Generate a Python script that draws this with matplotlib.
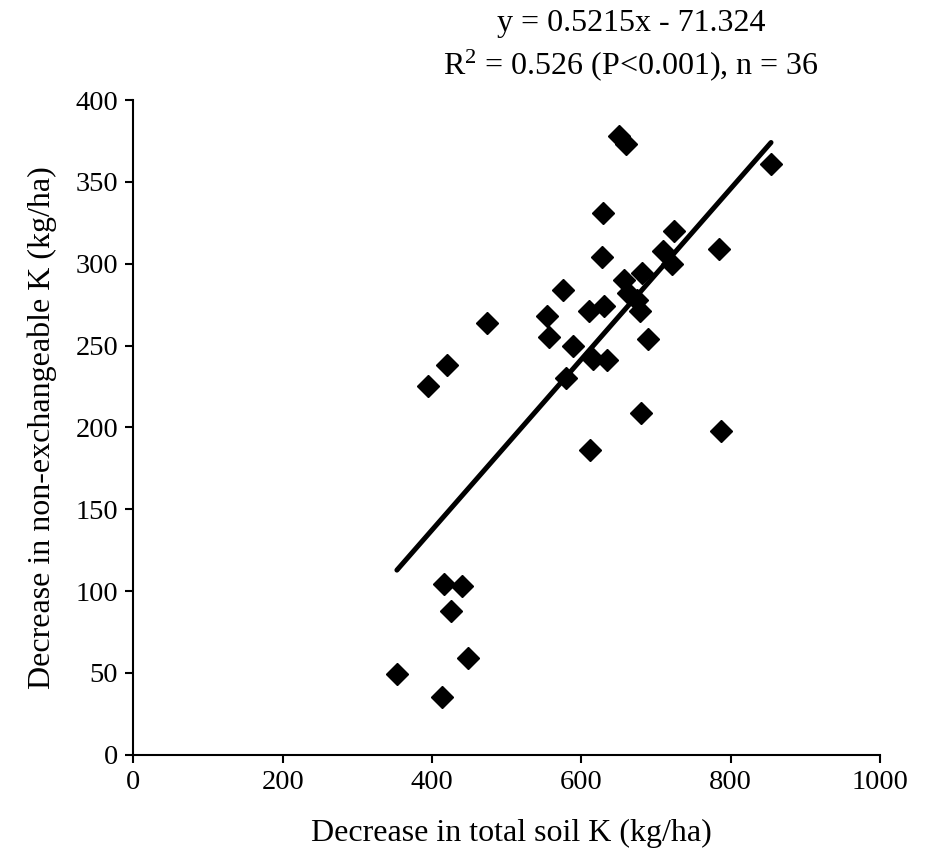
import numpy as np
import matplotlib
matplotlib.use("Agg")
import matplotlib.pyplot as plt

plt.rcParams['font.family'] = ['Liberation Serif', 'DejaVu Serif']
plt.rcParams['mathtext.fontset'] = 'custom'
plt.rcParams['mathtext.rm'] = 'Liberation Serif'
plt.rcParams['mathtext.it'] = 'Liberation Serif:italic'

# decrease in total soil K vs decrease in non-exchangeable K (kg/ha)
total_k = [473, 420, 394, 416, 440, 426, 448, 353, 413,
           651, 660, 854, 629, 724, 784, 710, 627, 721, 681,
           657, 576, 663, 674, 678, 631, 610, 554, 557, 589,
           689, 616, 634, 580, 680, 787, 611]
nonexch_k = [264, 238, 225, 104, 103, 88, 59, 49, 35,
             378, 373, 361, 331, 320, 309, 308, 304, 300, 294,
             290, 284, 282, 278, 271, 274, 271, 268, 255, 250,
             254, 242, 241, 230, 209, 198, 186]

slope = 0.5215
intercept = -71.324

fig = plt.figure(figsize=(9.29, 8.57), dpi=100)
ax = fig.add_axes([0.1435, 0.1194, 0.8038, 0.7639])

ax.plot(total_k, nonexch_k, 'D', color='black', markersize=11, zorder=3)

xl = np.array([min(total_k), max(total_k)])
ax.plot(xl, slope * xl + intercept, color='black', lw=3.6,
        solid_capstyle='round', zorder=2)

ax.set_xlim(0, 1000)
ax.set_ylim(0, 400)
ax.set_xticks(range(0, 1001, 200))
ax.set_yticks(range(0, 401, 50))
for s in ['top', 'right']:
    ax.spines[s].set_visible(False)
for s in ['left', 'bottom']:
    ax.spines[s].set_linewidth(1.5)
ax.tick_params(direction='out', length=6, width=1.5, labelsize=20.5, pad=5)

ax.set_xlabel('Decrease in total soil K (kg/ha)', fontsize=23, va='center')
ax.set_ylabel('Decrease in non-exchangeable K (kg/ha)', fontsize=23, va='center')
ax.xaxis.set_label_coords(0.506, -0.12)
ax.yaxis.set_label_coords(-0.122, 0.5)

ax.text(0.667, 1.117, 'y = 0.5215x - 71.324', transform=ax.transAxes,
        ha='center', va='center', fontsize=23)
ax.text(0.667, 1.053, r'R$^2$ = 0.526 (P<0.001), n = 36', transform=ax.transAxes,
        ha='center', va='center', fontsize=23)

fig.savefig('out.png', dpi=100)
